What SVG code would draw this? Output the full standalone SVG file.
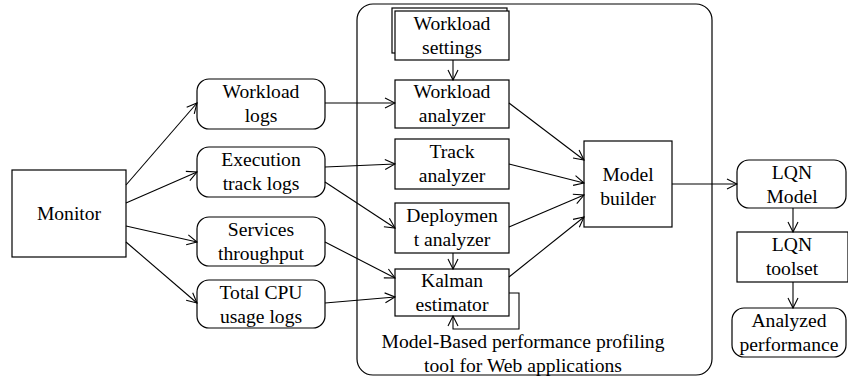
<svg xmlns="http://www.w3.org/2000/svg" width="848" height="378" viewBox="0 0 848 378" font-family="'Liberation Serif', 'Times New Roman', 'DejaVu Serif', serif">
<style>
.b{fill:#fff;stroke:#000;stroke-width:1.2}
.c{fill:none;stroke:#000;stroke-width:1.1}
text{font-family:'Liberation Serif','Times New Roman','DejaVu Serif',serif;font-size:19.6px;fill:#000;text-anchor:middle}
</style>
<defs>
<marker id="a" markerWidth="12" markerHeight="12" refX="11" refY="6" orient="auto" markerUnits="userSpaceOnUse">
<path d="M1,1 L11,6 L1,11" fill="none" stroke="#000" stroke-width="1.1"/>
</marker>
</defs>
<rect width="848" height="378" fill="#fff"/>
<g id="container">
<rect x="357" y="4" width="355" height="371" rx="16" class="b"/>
<text x="523" y="348">Model-Based performance profiling</text>
<text x="523" y="372">tool for Web applications</text>
</g>
<g id="monitor"><rect x="12" y="170" width="114" height="87" class="b"/><text x="69" y="220">Monitor</text></g>
<g id="workload-logs"><rect x="197" y="79" width="128" height="50" rx="12" class="b"/><text x="261" y="98">Workload</text><text x="261" y="122">logs</text></g>
<g id="exec-logs"><rect x="197" y="147" width="128" height="50" rx="12" class="b"/><text x="261" y="166">Execution</text><text x="261" y="190">track logs</text></g>
<g id="services"><rect x="197" y="217" width="128" height="49" rx="12" class="b"/><text x="261" y="236">Services</text><text x="261" y="260">throughput</text></g>
<g id="cpu-logs"><rect x="197" y="280" width="128" height="48" rx="12" class="b"/><text x="261" y="299">Total CPU</text><text x="261" y="323">usage logs</text></g>
<g id="workload-settings"><rect x="392" y="8" width="115" height="45" class="b"/><rect x="395" y="11" width="114" height="49" class="b"/><text x="452" y="30">Workload</text><text x="452" y="54">settings</text></g>
<g id="workload-analyzer"><rect x="395" y="80" width="114" height="48" class="b"/><text x="452" y="98">Workload</text><text x="452" y="122">analyzer</text></g>
<g id="track-analyzer"><rect x="395" y="139" width="114" height="50" class="b"/><text x="452" y="158">Track</text><text x="452" y="182">analyzer</text></g>
<g id="deployment-analyzer"><rect x="395" y="203" width="114" height="50" class="b"/><text x="452" y="222">Deploymen</text><text x="452" y="246">t analyzer</text></g>
<g id="kalman"><rect x="395" y="269" width="114" height="47" class="b"/><text x="452" y="287">Kalman</text><text x="452" y="311">estimator</text></g>
<g id="model-builder"><rect x="584" y="141" width="88" height="86" class="b"/><text x="628" y="181">Model</text><text x="628" y="205">builder</text></g>
<g id="lqn-model"><rect x="737" y="160" width="109" height="48" rx="12" class="b"/><text x="792" y="179">LQN</text><text x="792" y="203">Model</text></g>
<g id="lqn-toolset"><rect x="737" y="232" width="111" height="50" class="b"/><text x="792" y="251">LQN</text><text x="792" y="275">toolset</text></g>
<g id="analyzed"><rect x="732" y="308" width="114" height="49" rx="12" class="b"/><text x="789" y="327">Analyzed</text><text x="789" y="351">performance</text></g>
<g id="connectors" class="c">
<line x1="126" y1="185" x2="197" y2="103" marker-end="url(#a)"/>
<line x1="126" y1="203" x2="197" y2="172" marker-end="url(#a)"/>
<line x1="126" y1="226" x2="197" y2="242" marker-end="url(#a)"/>
<line x1="126" y1="242" x2="197" y2="303" marker-end="url(#a)"/>
<line x1="325" y1="103" x2="395" y2="103" marker-end="url(#a)"/>
<line x1="325" y1="167" x2="395" y2="164" marker-end="url(#a)"/>
<line x1="325" y1="182" x2="395" y2="228" marker-end="url(#a)"/>
<line x1="325" y1="242" x2="395" y2="278" marker-end="url(#a)"/>
<line x1="325" y1="303" x2="395" y2="297" marker-end="url(#a)"/>
<line x1="453" y1="60" x2="453" y2="80" marker-end="url(#a)"/>
<line x1="453" y1="253" x2="453" y2="269" marker-end="url(#a)"/>
<polyline points="509,293 519,293 519,329 453,329 453,316" marker-end="url(#a)"/>
<line x1="509" y1="103" x2="584" y2="160" marker-end="url(#a)"/>
<line x1="509" y1="164" x2="584" y2="183" marker-end="url(#a)"/>
<line x1="509" y1="227" x2="584" y2="195" marker-end="url(#a)"/>
<line x1="509" y1="277" x2="584" y2="217" marker-end="url(#a)"/>
<line x1="672" y1="184" x2="737" y2="184" marker-end="url(#a)"/>
<line x1="793" y1="208" x2="793" y2="232" marker-end="url(#a)"/>
<line x1="793" y1="282" x2="793" y2="308" marker-end="url(#a)"/>
</g>
</svg>
